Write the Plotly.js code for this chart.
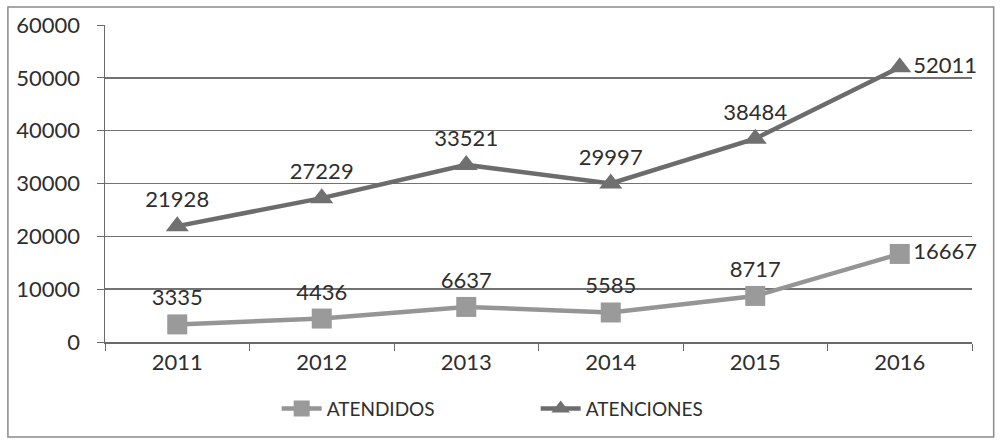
<!DOCTYPE html>
<html>
<head>
<meta charset="utf-8">
<script src="https://cdn.plot.ly/plotly-3.0.1.min.js"></script>
<style>
html,body{margin:0;padding:0;background:#fff;}
#chart{width:1003px;height:440px;}
</style>
</head>
<body>
<div id="chart"></div>
<script>
const years = ['2011', '2012', '2013', '2014', '2015', '2016'];
const atendidos = [3335, 4436, 6637, 5585, 8717, 16667];
const atenciones = [21928, 27229, 33521, 29997, 38484, 52011];
const atendidosPos = ['top center', 'top center', 'top center', 'top center', 'top center', 'middle right'];
const atencionesPos = ['top center', 'top center', 'top center', 'top center', 'top center', 'middle right'];

const FONT = 'Lato, "Open Sans", sans-serif';

const traces = [
  {
    x: years, y: atendidos, name: 'ATENDIDOS', type: 'scatter', mode: 'lines+markers+text',
    line: {color: '#959595', width: 4.5},
    marker: {symbol: 'square', size: 20, color: '#9a9a9a'},
    text: atendidos.map(String), textposition: atendidosPos,
    textfont: {family: FONT, size: 22, color: '#2e2e2e'},
    cliponaxis: false
  },
  {
    x: years, y: atenciones, name: 'ATENCIONES', type: 'scatter', mode: 'lines+markers+text',
    line: {color: '#6c6c6c', width: 4.5},
    marker: {symbol: 'triangle-up', size: 20, color: '#707070'},
    text: atenciones.map(String), textposition: atencionesPos,
    textfont: {family: FONT, size: 22, color: '#2e2e2e'},
    cliponaxis: false
  }
];

const layout = {
  width: 1003, height: 440,
  margin: {l: 105, r: 31, t: 25, b: 98},
  paper_bgcolor: '#fff', plot_bgcolor: '#fff',
  font: {family: FONT, size: 22, color: '#2e2e2e'},
  showlegend: true,
  legend: {
    orientation: 'h', x: 0.198, y: -0.15, xanchor: 'left', yanchor: 'top',
    font: {family: FONT, size: 19, color: '#2e2e2e'},
    entrywidth: 204, entrywidthmode: 'pixels', itemwidth: 40
  },
  xaxis: {
    type: 'category', range: [-0.5, 5.5], autorange: false,
    showgrid: false, showline: true, linecolor: '#6a6a6a', linewidth: 1.5,
    ticks: 'outside', ticklen: 7, tickcolor: '#6a6a6a', tickson: 'boundaries',
    tickfont: {family: FONT, size: 22, color: '#2e2e2e'}, zeroline: false
  },
  yaxis: {
    range: [0, 60000], dtick: 10000, showgrid: true, gridcolor: '#727272', gridwidth: 1.4,
    showline: true, linecolor: '#6a6a6a', linewidth: 1.5,
    ticks: 'outside', ticklen: 7, tickcolor: '#6a6a6a', ticklabelstandoff: 12,
    tickfont: {family: FONT, size: 22, color: '#2e2e2e'}, zeroline: false,
    tickformat: 'd'
  },
  shapes: [
    {type: 'rect', xref: 'paper', yref: 'paper', x0: -0.112, x1: 1.025, y0: -0.30, y1: 1.057,
     line: {color: '#8a8a8a', width: 1.5}, fillcolor: 'rgba(0,0,0,0)', layer: 'below'}
  ]
};

Plotly.newPlot('chart', traces, layout, {displayModeBar: false, staticPlot: true});
</script>
</body>
</html>
